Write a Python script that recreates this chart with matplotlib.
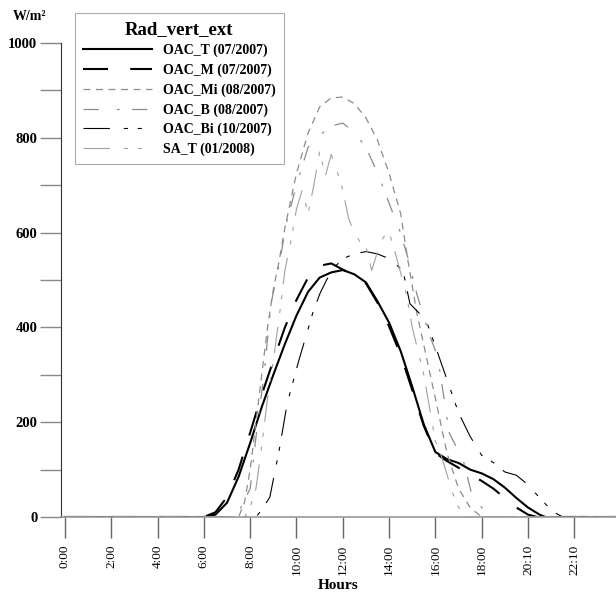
import numpy as np
import matplotlib
matplotlib.use("Agg")
import matplotlib.pyplot as plt
from matplotlib.ticker import MultipleLocator

plt.rcParams['font.family'] = ['Liberation Serif', 'DejaVu Serif']
plt.rcParams['lines.scale_dashes'] = False

# --- data (hour of day, W/m2) ---
oac_t_h = [0, 6.0, 6.5, 7.0, 7.5, 8.0, 8.5, 9.0, 9.5, 10.0, 10.5, 11.0, 11.5, 12.0, 12.5, 13.0,
           13.5, 14.0, 14.5, 15.0, 15.5, 16.0, 16.5, 17.0, 17.5, 18.0, 18.5, 19.0, 19.5, 20.0,
           20.5, 20.75, 23.8]
oac_t_v = [0, 0, 5, 30, 85, 156, 232, 300, 365, 425, 475, 505, 516, 521, 512, 495,
           455, 410, 350, 275, 195, 137, 122, 114, 100, 92, 80, 62, 40, 20,
           5, 0, 0]

oac_m_h = [0, 6.0, 6.5, 7.0, 7.5, 8.0, 8.5, 9.0, 9.5, 10.0, 10.5, 11.0, 11.5, 12.0, 12.5, 13.0,
           13.5, 14.0, 14.5, 15.0, 15.5, 16.0, 16.5, 17.0, 17.5, 18.0, 18.5, 19.0, 19.5, 20.0,
           20.4, 23.8]
oac_m_v = [0, 0, 10, 42, 100, 178, 258, 330, 400, 458, 505, 530, 535, 522, 510, 493,
           452, 402, 342, 268, 192, 135, 118, 104, 90, 76, 60, 40, 20, 5,
           0, 0]

oac_mi_h = [0, 7.5, 7.75, 8.0, 8.25, 8.5, 8.75, 9.0, 9.25, 9.5, 10.0, 10.5, 11.0, 11.5, 12.0,
            12.5, 13.0, 13.5, 14.0, 14.5, 14.8, 15.2, 15.6, 16.0, 16.5, 17.0, 17.5, 18.0, 23.8]
oac_mi_v = [0, 0, 30, 100, 200, 300, 400, 480, 540, 610, 725, 810, 865, 884, 886,
            872, 842, 795, 725, 640, 545, 430, 340, 250, 135, 60, 20, 0, 0]

oac_b_h = [0, 7.25, 7.6, 8.0, 8.3, 8.6, 8.9, 9.2, 9.6, 10.0, 10.5, 11.0, 11.5, 12.0, 12.5,
           13.0, 13.5, 14.0, 14.5, 14.8, 15.2, 15.7, 16.1, 16.6, 17.2, 17.6, 18.0, 18.4, 23.8]
oac_b_v = [0, 0, 20, 60, 190, 300, 450, 520, 627, 700, 780, 805, 825, 831, 812,
           780, 726, 662, 599, 549, 470, 390, 338, 177, 120, 42, 20, 0, 0]

oac_bi_h = [0, 8.25, 8.5, 8.85, 9.25, 9.6, 10.1, 10.45, 10.7, 11.0, 11.3, 11.6, 12.0, 12.5, 13.0,
            13.5, 14.0, 14.6, 14.9, 15.3, 15.6, 16.1, 16.5, 17.0, 17.5, 18.0, 18.5, 19.0, 19.5,
            20.0, 20.4, 20.8, 21.2, 21.5, 23.8]
oac_bi_v = [0, 0, 15, 42, 140, 240, 330, 388, 430, 470, 500, 525, 545, 555, 560,
            555, 545, 520, 450, 430, 415, 346, 290, 220, 170, 130, 115, 95, 88,
            68, 46, 25, 8, 0, 0]

sa_t_h = [0, 7.75, 8.0, 8.25, 8.5, 8.75, 9.0, 9.25, 9.5, 9.75, 10.0, 10.25, 10.5, 10.75, 11.0,
          11.25, 11.5, 11.75, 12.0, 12.25, 12.5, 12.75, 13.0, 13.25, 13.5, 13.75, 14.0, 14.25,
          14.5, 14.75, 15.0, 15.25, 15.5, 15.75, 16.0, 16.25, 16.5, 16.75, 17.0, 17.25, 23.8]
sa_t_v = [0, 0, 20, 60, 150, 250, 330, 420, 520, 580, 650, 690, 640, 700, 770,
          720, 765, 730, 690, 630, 600, 580, 570, 520, 560, 590, 600, 560,
          515, 470, 400, 350, 300, 230, 160, 130, 90, 50, 20, 0, 0]

tick_pos = [0, 2, 4, 6, 8, 10, 12, 14, 16, 18, 20, 22]
tick_lab = ['0:00', '2:00', '4:00', '6:00', '8:00', '10:00', '12:00', '14:00',
            '16:00', '18:00', '20:10', '22:10']

fig = plt.figure(figsize=(6.16, 5.94), dpi=100)
ax = fig.add_axes([61 / 616, 77 / 594, 555 / 616, 474 / 594])

ax.plot(oac_t_h, oac_t_v, color='black', lw=1.5, label='OAC_T (07/2007)')
ax.plot(oac_m_h, oac_m_v, color='black', lw=1.5, dashes=(18, 16), label='OAC_M (07/2007)')
ax.plot(oac_mi_h, oac_mi_v, color='#8c8c8c', lw=0.9, dashes=(5, 4), label='OAC_Mi (08/2007)')
ax.plot(oac_b_h, oac_b_v, color='#8c8c8c', lw=0.9, dashes=(11, 13, 2, 9), label='OAC_B (08/2007)')
ax.plot(oac_bi_h, oac_bi_v, color='black', lw=0.8, dashes=(19, 10, 3, 7, 3, 8), label='OAC_Bi (10/2007)')
ax.plot(sa_t_h, sa_t_v, color='#a0a0a0', lw=0.8, dashes=(19, 10, 3, 7, 3, 8), label='SA_T (01/2008)')

ax.set_xlim(-0.17, 23.8)
ax.set_ylim(0, 1000)
ax.spines['top'].set_visible(False)
ax.spines['right'].set_visible(False)
ax.spines['left'].set_color('#333333')
ax.spines['bottom'].set_color('#999999')
ax.spines['bottom'].set_linewidth(1.2)

ax.set_xticks(tick_pos)
ax.set_xticklabels(tick_lab, rotation=90, fontsize=9.5)
ax.yaxis.set_major_locator(MultipleLocator(200))
ax.yaxis.set_minor_locator(MultipleLocator(100))
ax.tick_params(axis='x', length=15, width=1, color='#666666', pad=5)
ax.tick_params(axis='y', which='both', length=15, width=1, color='#888888', pad=2)
for lab in ax.get_yticklabels():
    lab.set_fontweight('bold')
    lab.set_fontsize(10.5)

ax.set_xlabel('Hours', fontsize=11, fontweight='bold', labelpad=3)
fig.text(30 / 616, 1 - 17 / 594, 'W/m²', ha='center', va='center', fontsize=10, fontweight='bold')

leg = ax.legend(loc='upper left', bbox_to_anchor=(75 / 616, 1 - 13 / 594),
                bbox_transform=fig.transFigure, borderaxespad=0, title='Rad_vert_ext',
                prop={'weight': 'bold', 'size': 10}, handlelength=5.0, fancybox=False,
                edgecolor='#aaaaaa', framealpha=1, labelspacing=0.45, borderpad=0.55)
leg.get_title().set_fontweight('bold')
leg.get_title().set_fontsize(13.5)
leg.get_frame().set_linewidth(0.8)

fig.savefig('out.png', dpi=100)
